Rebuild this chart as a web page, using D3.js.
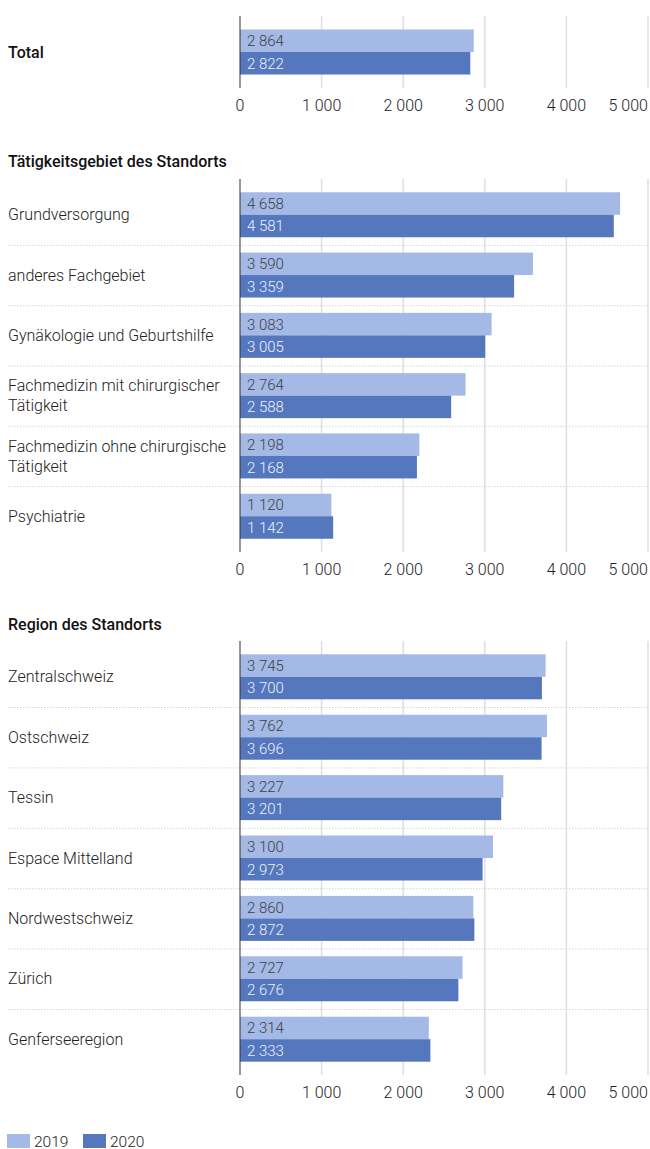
<!DOCTYPE html>
<html>
<head>
<meta charset="utf-8">
<script src="https://cdn.jsdelivr.net/npm/d3@7"></script>
<style>
  body { margin: 0; background: #fff; font-family: Roboto, "Noto Sans", sans-serif; }
  svg text { font-family: Roboto, "Noto Sans", sans-serif; }
</style>
</head>
<body>
<div id="chart"></div>
<script>
// data
var series = ["2019", "2020"];
var totalCats = ["Total"];
var total2019 = [2864];
var total2020 = [2822];

var activityCats = ["Grundversorgung", "anderes Fachgebiet", "Gynäkologie und Geburtshilfe",
    "Fachmedizin mit chirurgischer Tätigkeit", "Fachmedizin ohne chirurgische Tätigkeit", "Psychiatrie"];
var activity2019 = [4658, 3590, 3083, 2764, 2198, 1120];
var activity2020 = [4581, 3359, 3005, 2588, 2168, 1142];

var regionCats = ["Zentralschweiz", "Ostschweiz", "Tessin", "Espace Mittelland", "Nordwestschweiz", "Zürich", "Genferseeregion"];
var region2019 = [3745, 3762, 3227, 3100, 2860, 2727, 2314];
var region2020 = [3700, 3696, 3201, 2973, 2872, 2676, 2333];

var tickValues = [0, 1000, 2000, 3000, 4000, 5000];

var colors = { "2019": "#a4b9e6", "2020": "#5577be" };

var width = 650, height = 1149;
var svg = d3.select("#chart").append("svg")
    .attr("width", width)
    .attr("height", height);

var x = d3.scaleLinear().domain([0, 5000]).range([240, 648]);
var fmt = function(v) { return d3.format(",")(v).replace(/,/g, " "); };

// split a label into lines no wider than maxW (measured with a probe text)
function splitLines(label, size, weight, maxW) {
    var probe = svg.append("text").attr("font-size", size).attr("font-weight", weight);
    var words = label.split(" ");
    var lines = [], line = [];
    words.forEach(function(w) {
        line.push(w);
        probe.text(line.join(" "));
        if (probe.node().getComputedTextLength() > maxW && line.length > 1) {
            line.pop();
            lines.push(line.join(" "));
            line = [w];
        }
    });
    lines.push(line.join(" "));
    probe.remove();
    return lines;
}

function panel(opts) {
    var cats = opts.cats;
    var g = svg.append("g");
    if (opts.title) {
        g.append("text")
            .attr("x", 8)
            .attr("y", opts.titleY)
            .attr("font-size", 16)
            .attr("font-weight", 500)
            .attr("fill", "#111")
            .text(opts.title);
    }
    var y = d3.scaleBand().domain(cats).range([opts.top, opts.bottom])
        .paddingInner(0).paddingOuter(0.093);
    var barH = 22.5;

    // gridlines
    g.append("g").selectAll("line")
        .data(tickValues.slice(1))
        .enter().append("line")
        .attr("x1", function(d) { return x(d); })
        .attr("x2", function(d) { return x(d); })
        .attr("y1", opts.top)
        .attr("y2", opts.bottom)
        .attr("stroke", "#dedede")
        .attr("stroke-width", 1.5);

    // row separators
    g.append("g").selectAll("line")
        .data(cats.slice(1))
        .enter().append("line")
        .attr("x1", 8)
        .attr("x2", 648)
        .attr("y1", function(d) { return y(d) + 0.5; })
        .attr("y2", function(d) { return y(d) + 0.5; })
        .attr("stroke", "#d6d6d6")
        .attr("stroke-width", 1)
        .attr("stroke-dasharray", "1.5,1.5");

    // category labels, one text per line
    var lsize = 16, lweight = opts.boldLabels ? 500 : 300;
    var labelLines = [];
    cats.forEach(function(c) {
        var lines = splitLines(c, lsize, lweight, 232);
        lines.forEach(function(l, i) {
            labelLines.push({ cat: c, text: l, off: (i - (lines.length - 1) / 2) * 20 });
        });
    });
    g.append("g").selectAll("text")
        .data(labelLines)
        .enter().append("text")
        .attr("x", 8)
        .attr("y", function(d) { return y(d.cat) + y.bandwidth() / 2 + d.off; })
        .attr("dy", "0.35em")
        .attr("font-size", lsize)
        .attr("font-weight", lweight)
        .attr("fill", opts.boldLabels ? "#111" : "#222")
        .text(function(d) { return d.text; });

    var rows = cats.map(function(c, i) {
        return { cat: c, v2019: opts.v2019[i], v2020: opts.v2020[i] };
    });

    series.forEach(function(s, si) {
        var key = "v" + s;
        var bg = g.append("g");
        bg.selectAll("rect")
            .data(rows)
            .enter().append("rect")
            .attr("x", x(0))
            .attr("y", function(d) { return y(d.cat) + y.bandwidth() / 2 - barH + si * barH; })
            .attr("width", function(d) { return x(d[key]) - x(0); })
            .attr("height", barH)
            .attr("fill", colors[s]);
        bg.selectAll("text")
            .data(rows)
            .enter().append("text")
            .attr("x", x(0) + 7)
            .attr("y", function(d) { return y(d.cat) + y.bandwidth() / 2 - barH / 2 + si * barH; })
            .attr("dy", "0.36em")
            .attr("font-size", 15)
            .attr("font-weight", 300)
            .attr("fill", si === 0 ? "#3f3f3f" : "#eef2fb")
            .text(function(d) { return fmt(d[key]); });
    });

    // zero axis line
    g.append("line")
        .attr("x1", x(0)).attr("x2", x(0))
        .attr("y1", opts.top).attr("y2", opts.bottom)
        .attr("stroke", "#333")
        .attr("stroke-width", 1);

    // tick labels
    g.append("g").selectAll("text")
        .data(tickValues)
        .enter().append("text")
        .attr("x", function(d, i) { return i === tickValues.length - 1 ? 648 : x(d); })
        .attr("y", opts.bottom + 23)
        .attr("text-anchor", function(d, i) { return i === tickValues.length - 1 ? "end" : "middle"; })
        .attr("font-size", 16)
        .attr("font-weight", 300)
        .attr("fill", "#222")
        .text(function(d) { return fmt(d); });
}

panel({ cats: totalCats, v2019: total2019, v2020: total2020, top: 16, bottom: 88, boldLabels: true });
panel({ cats: activityCats, v2019: activity2019, v2020: activity2020, top: 179, bottom: 552,
    title: "Tätigkeitsgebiet des Standorts", titleY: 167 });
panel({ cats: regionCats, v2019: region2019, v2020: region2020, top: 641, bottom: 1075,
    title: "Region des Standorts", titleY: 630 });

// legend
var legend = svg.append("g").attr("transform", "translate(7,1134)");
var lx = 0;
series.forEach(function(s) {
    legend.append("rect")
        .attr("x", lx).attr("y", 0)
        .attr("width", 23).attr("height", 14)
        .attr("fill", colors[s]);
    legend.append("text")
        .attr("x", lx + 27).attr("y", 12.5)
        .attr("font-size", 15.5)
        .attr("font-weight", 300)
        .attr("fill", "#222")
        .text(s);
    lx += 76;
});
</script>
</body>
</html>
